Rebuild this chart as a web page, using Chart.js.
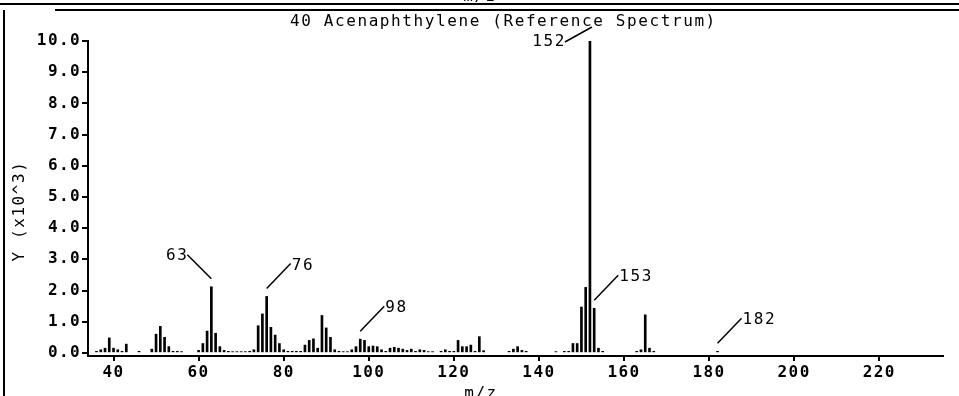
<!DOCTYPE html>
<html lang="en">
<head>
  <meta charset="UTF-8">
  <title>40 Acenaphthylene (Reference Spectrum)</title>
  <script src="https://cdn.jsdelivr.net/npm/chart.js"></script>
  <style>
    html, body { margin: 0; padding: 0; background: #fff; }
    canvas { display: block; }
  </style>
</head>
<body>
  <canvas id="spectrum" width="959" height="396"></canvas>

  <script>
    // m/z values and abundance (x10^3)
    const mzValues = [
      36, 37, 38, 39, 40, 41, 42, 43, 46,
      49, 50, 51, 52, 53, 54, 55, 56,
      60, 61, 62, 63, 64, 65, 66, 67, 68, 69, 70, 71,
      72, 73, 74, 75, 76, 77, 78, 79, 80, 81, 82, 83, 84,
      85, 86, 87, 88, 89, 90, 91, 92, 93, 94, 95,
      96, 97, 98, 99, 100, 101, 102, 103, 104, 105, 106, 107, 108, 109, 110, 111, 112, 113, 114, 115,
      117, 118, 119, 120, 121, 122, 123, 124, 125, 126, 127,
      133, 134, 135, 136, 137,
      144, 146, 147, 148, 149, 150, 151, 152, 153, 154, 155,
      163, 164, 165, 166, 167,
      182
    ];
    const abundance = [
      0.05, 0.10, 0.15, 0.48, 0.15, 0.10, 0.05, 0.28, 0.05,
      0.12, 0.60, 0.85, 0.50, 0.20, 0.05, 0.05, 0.04,
      0.08, 0.30, 0.70, 2.12, 0.63, 0.20, 0.08, 0.05, 0.04, 0.04, 0.04, 0.04,
      0.05, 0.10, 0.87, 1.25, 1.81, 0.82, 0.57, 0.30, 0.10, 0.05, 0.05, 0.05, 0.05,
      0.25, 0.40, 0.45, 0.15, 1.20, 0.80, 0.50, 0.10, 0.05, 0.04, 0.04,
      0.10, 0.20, 0.44, 0.40, 0.20, 0.22, 0.20, 0.10, 0.05, 0.15, 0.18, 0.15, 0.12, 0.08, 0.12, 0.05, 0.10, 0.08, 0.04, 0.04,
      0.05, 0.10, 0.05, 0.05, 0.40, 0.20, 0.20, 0.25, 0.05, 0.52, 0.07,
      0.05, 0.12, 0.20, 0.08, 0.05,
      0.04, 0.05, 0.05, 0.30, 0.30, 1.47, 2.10, 10.0, 1.43, 0.15, 0.05,
      0.05, 0.10, 1.22, 0.15, 0.05,
      0.05
    ];
    const xTickValues = [40, 60, 80, 100, 120, 140, 160, 180, 200, 220];
    const yTickValues = [0, 1, 2, 3, 4, 5, 6, 7, 8, 9, 10];
    const labeledPeaks = [63, 76, 98, 152, 153, 182];

    const MONO = '"DejaVu Sans Mono", monospace';

    // titles, frame and peak labels drawn on top
    const overlay = {
      id: 'overlay',
      beforeDraw(chart) {
        chart.ctx.letterSpacing = '1.4px';
      },
      afterDraw(chart) {
        const c = chart.ctx;
        const xs = chart.scales.x, ys = chart.scales.y;
        c.save();
        c.letterSpacing = '1.6px';
        c.fillStyle = '#000';
        c.strokeStyle = '#000';

        // frame lines
        c.lineWidth = 2;
        c.beginPath();
        c.moveTo(0, 4); c.lineTo(959, 4);
        c.moveTo(55, 10); c.lineTo(959, 10);
        c.moveTo(4, 10); c.lineTo(4, 396);
        c.stroke();

        // cut-off axis label from the panel above
        c.font = '16px ' + MONO;
        c.textAlign = 'center';
        c.textBaseline = 'alphabetic';
        c.fillText('m/z', 480, 1);

        // title
        c.textAlign = 'left';
        c.textBaseline = 'middle';
        c.fillText('40 Acenaphthylene (Reference Spectrum)', 290, 22);

        // x axis title
        c.textAlign = 'center';
        c.textBaseline = 'top';
        c.fillText('m/z', 481, 386);

        // y axis title
        c.save();
        c.translate(20, 211);
        c.rotate(-Math.PI / 2);
        c.textBaseline = 'middle';
        c.fillText('Y (x10^3)', 0, 0);
        c.restore();

        // peak labels with leader lines
        c.lineWidth = 1.5;
        c.textBaseline = 'middle';
        labeledPeaks.forEach(m => {
          const i = mzValues.indexOf(m);
          const px = xs.getPixelForValue(m);
          const py = ys.getPixelForValue(abundance[i]);
          c.beginPath();
          if (m === 152) {
            c.moveTo(px - 25, py + 1);
            c.lineTo(px + 2, py - 14);
            c.stroke();
            c.textAlign = 'right';
            c.fillText(String(m), px - 24, py + 1);
          } else if (m === 63) {
            c.moveTo(px, py - 8);
            c.lineTo(px - 24, py - 32);
            c.stroke();
            c.textAlign = 'right';
            c.fillText(String(m), px - 23, py - 31);
          } else {
            c.moveTo(px, py - 8);
            c.lineTo(px + 24, py - 33);
            c.stroke();
            c.textAlign = 'left';
            c.fillText(String(m), px + 25, py - 31);
          }
        });
        c.restore();
      }
    };

    const ctx = document.getElementById('spectrum').getContext('2d');
    const spectrumChart = new Chart(ctx, {
      type: 'bar',
      data: {
        datasets: [{
          data: mzValues.map((m, i) => ({ x: m, y: abundance[i] })),
          backgroundColor: '#000',
          borderWidth: 0,
          barThickness: 2
        }]
      },
      options: {
        responsive: false,
        animation: false,
        layout: { padding: { left: 0, right: 16, top: 41, bottom: 0 } },
        plugins: {
          legend: { display: false },
          tooltip: { enabled: false }
        },
        scales: {
          x: {
            type: 'linear',
            offset: false,
            min: 34,
            max: 235,
            afterBuildTicks: s => { s.ticks = xTickValues.map(v => ({ value: v })); },
            afterFit: s => { s.height = 40; },
            grid: { offset: false, drawOnChartArea: false, drawTicks: true, tickLength: 5, color: '#000', lineWidth: 2 },
            border: { color: '#000', width: 2 },
            ticks: {
              color: '#000',
              padding: 2,
              maxRotation: 0,
              autoSkip: false,
              font: { family: MONO, size: 16, weight: 'bold' }
            }
          },
          y: {
            min: -0.1,
            max: 10,
            afterBuildTicks: s => { s.ticks = yTickValues.map(v => ({ value: v })); },
            afterFit: s => { s.width = 88; },
            grid: { drawOnChartArea: false, drawTicks: true, tickLength: 6, color: '#000', lineWidth: 2 },
            border: { color: '#000', width: 2 },
            ticks: {
              color: '#000',
              padding: 1,
              autoSkip: false,
              callback: v => Number(v).toFixed(1),
              font: { family: MONO, size: 16, weight: 'bold' }
            }
          }
        }
      },
      plugins: [overlay]
    });
  </script>
</body>
</html>
